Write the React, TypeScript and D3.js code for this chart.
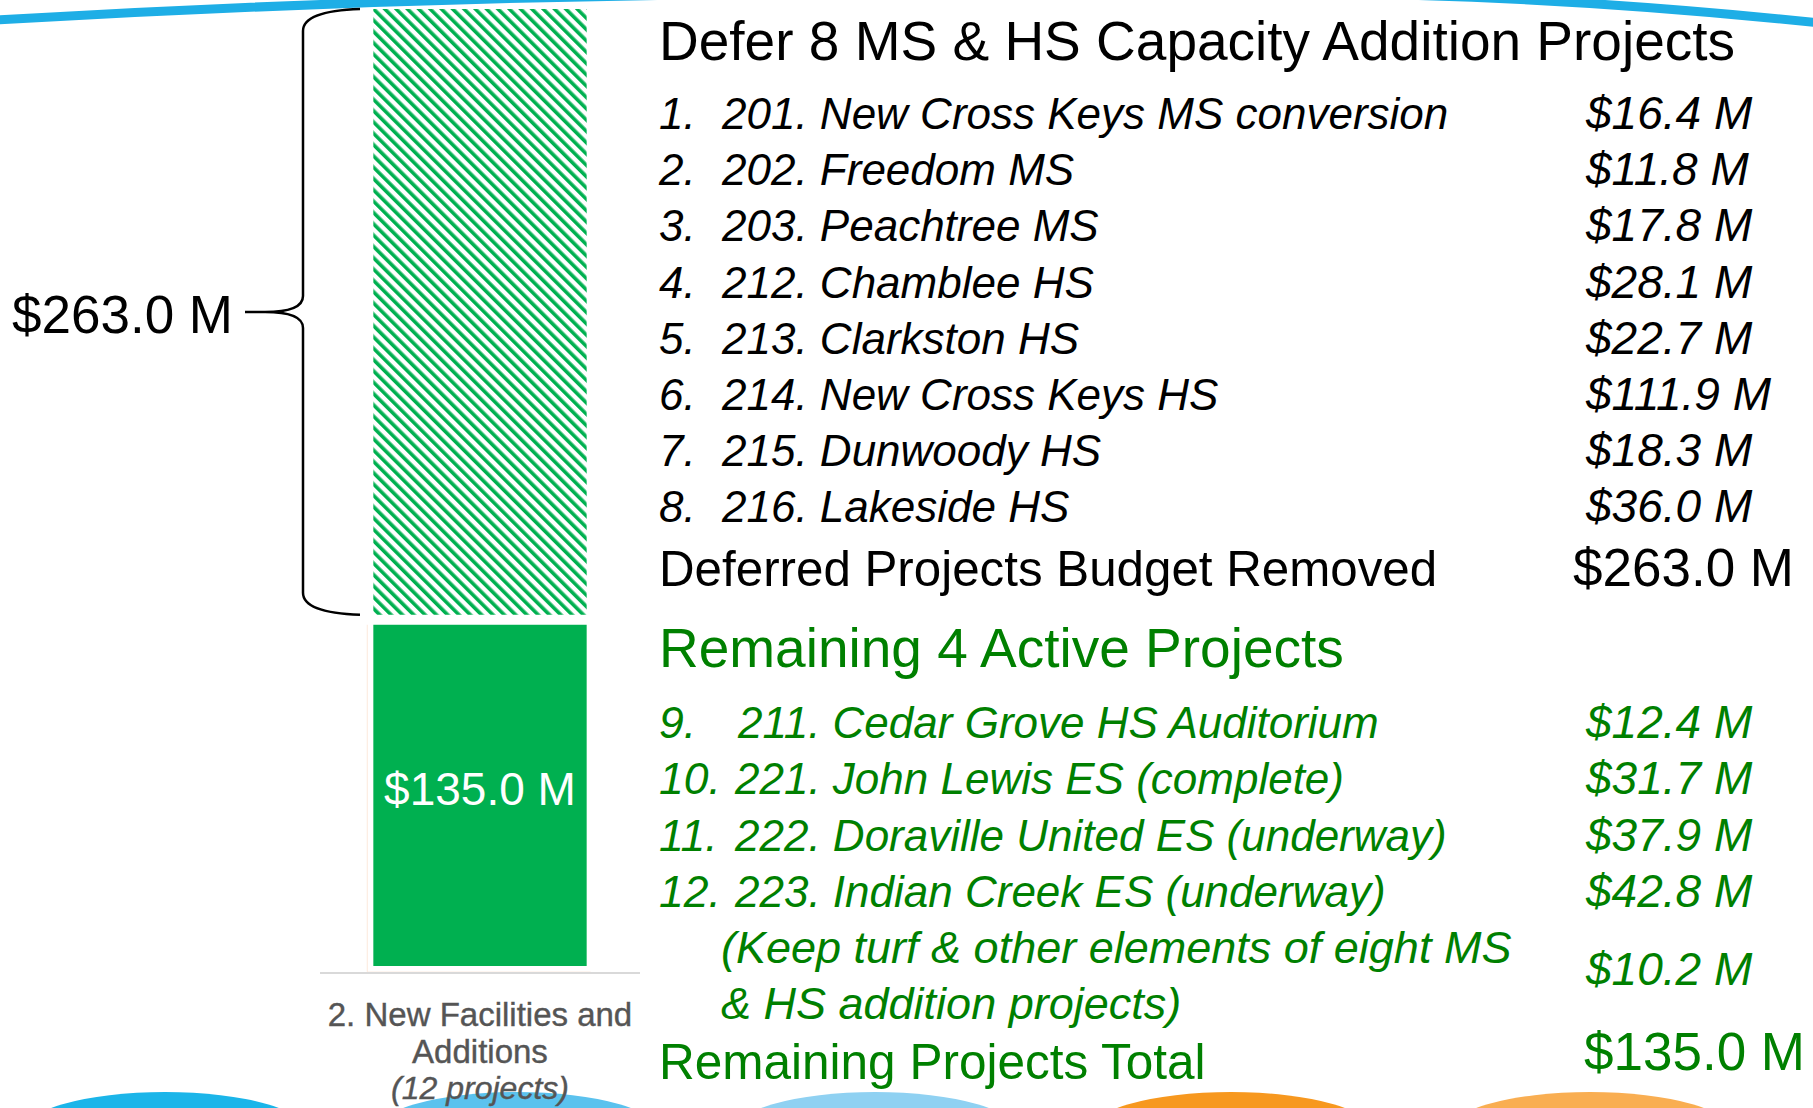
import * as d3 from 'd3';
import React, { useEffect, useRef } from 'react';

// deferred capacity projects (black list)
const deferredProjects = [
    '201. New Cross Keys MS conversion',
    '202. Freedom MS',
    '203. Peachtree MS',
    '212. Chamblee HS',
    '213. Clarkston HS',
    '214. New Cross Keys HS',
    '215. Dunwoody HS',
    '216. Lakeside HS',
];
const deferredValues = [16.4, 11.8, 17.8, 28.1, 22.7, 111.9, 18.3, 36.0];

// active projects (green list)
const activeProjects = [
    '211. Cedar Grove HS Auditorium',
    '221. John Lewis ES (complete)',
    '222. Doraville United ES (underway)',
    '223. Indian Creek ES (underway)',
];
const activeValues = [12.4, 31.7, 37.9, 42.8];
const keepNote = ['(Keep turf & other elements of eight MS', '& HS addition projects)'];
const keepValue = 10.2;

const barCategory = ['2. New Facilities and', 'Additions', '(12 projects)'];
const stackKeys = ['remaining', 'deferred'];
const axisMax = 371; // chart axis max, top segment is clipped

const FONT = "'Liberation Sans', Arial, Helvetica, sans-serif";
const GREEN_TEXT = '#008000';
const GREEN_BAR = '#00b050';

const fmt = (v: number) => `$${v.toFixed(1)} M`;

export default function App() {
    const ref = useRef<SVGSVGElement>(null);

    useEffect(() => {
        const svg = d3.select(ref.current);
        svg.selectAll('*').remove();

        const deferredTotal = d3.sum(deferredValues);
        const remainingTotal = d3.sum(activeValues) + keepValue;

        // decorative slide arcs
        const deco = svg.append('g');
        deco.append('path')
            .attr('d', 'M-5,20 Q340,0 690,-5')
            .attr('fill', 'none').attr('stroke', '#1eaee6').attr('stroke-width', 9);
        deco.append('path')
            .attr('d', 'M1400,-5 Q1600,0 1820,23')
            .attr('fill', 'none').attr('stroke', '#1eaee6').attr('stroke-width', 9);
        const domes = [
            [165, '#1bb5e9'], [517, '#5bc2ee'], [875, '#8fd1f2'], [1231, '#f7981f'], [1590, '#f9ae52'],
        ];
        deco.selectAll('ellipse').data(domes).enter().append('ellipse')
            .attr('cx', d => d[0]).attr('cy', 1134)
            .attr('rx', 145).attr('ry', 42)
            .attr('fill', d => d[1]);

        // hatch pattern
        const defs = svg.append('defs');
        const pat = defs.append('pattern')
            .attr('id', 'hatch')
            .attr('patternUnits', 'userSpaceOnUse')
            .attr('width', 8).attr('height', 8)
            .attr('patternTransform', 'rotate(-45)');
        pat.append('rect').attr('width', 8).attr('height', 8).attr('fill', '#fff');
        pat.append('rect').attr('width', 3.6).attr('height', 8).attr('fill', GREEN_BAR);

        // stacked bar
        const x = d3.scaleBand().domain([barCategory[0]]).range([320, 640]).paddingInner(0).paddingOuter(0.25);
        const y = d3.scaleLinear().domain([0, axisMax]).range([972, 4]).clamp(true);
        const stacked = d3.stack().keys(stackKeys)([{ remaining: remainingTotal, deferred: deferredTotal }]);
        const bx0 = x(barCategory[0])!;

        const bars = svg.append('g');
        // faint outline of an empty series at the base
        bars.append('path')
            .attr('d', `M${bx0 - 6},${y(stacked[0][0][1]) + 5} V${y(0)} H${bx0 + x.bandwidth() + 4}`)
            .attr('fill', 'none').attr('stroke', '#f8cbad').attr('stroke-opacity', 0.35).attr('stroke-width', 1.2);

        bars.selectAll('rect').data(stacked).enter().append('rect')
            .attr('x', bx0)
            .attr('width', x.bandwidth())
            .attr('y', d => y(d[0][1]) + 5)
            .attr('height', d => y(d[0][0]) - y(d[0][1]) - 11 + (d.key === 'deferred' ? 1 : 0))
            .attr('fill', d => d.key === 'deferred' ? 'url(#hatch)' : GREEN_BAR);

        bars.append('text')
            .attr('x', bx0 + x.bandwidth() / 2)
            .attr('y', (y(0) + y(remainingTotal)) / 2 + 9)
            .attr('text-anchor', 'middle')
            .attr('font-family', FONT).attr('font-size', 46).attr('fill', '#fff')
            .text(fmt(remainingTotal));

        // category axis
        svg.append('line')
            .attr('x1', 320).attr('x2', 640).attr('y1', 973).attr('y2', 973)
            .attr('stroke', '#d9d9d9').attr('stroke-width', 2);
        svg.append('g').selectAll('text').data(barCategory).enter().append('text')
            .attr('x', bx0 + x.bandwidth() / 2)
            .attr('y', (d, i) => [1026, 1063, 1099][i])
            .attr('text-anchor', 'middle')
            .attr('font-family', FONT).attr('font-size', (d, i) => i === 2 ? 32 : 33)
            .attr('fill', '#555555')
            .attr('stroke', '#555555').attr('stroke-width', 0.4)
            .attr('font-style', (d, i) => i === 2 ? 'italic' : 'normal')
            .text(d => d);

        // brace for deferred segment
        const top = y(stacked[1][0][1]) + 5;
        const bot = y(stacked[1][0][0]) - 5;
        const mid = (top + bot) / 2;
        const bx = 303;
        const p = d3.path();
        p.moveTo(360, top);
        p.quadraticCurveTo(bx, top + 2, bx, top + 22);
        p.lineTo(bx, mid - 16);
        p.quadraticCurveTo(bx, mid, 265, mid);
        p.lineTo(245, mid);
        p.moveTo(265, mid);
        p.quadraticCurveTo(bx, mid, bx, mid + 16);
        p.lineTo(bx, bot - 22);
        p.quadraticCurveTo(bx, bot - 2, 360, bot);
        svg.append('path').attr('d', p.toString())
            .attr('fill', 'none').attr('stroke', '#000').attr('stroke-width', 2.5);
        svg.append('text')
            .attr('x', 12).attr('y', mid + 21)
            .attr('font-family', FONT).attr('font-size', 53).attr('fill', '#000')
            .text(fmt(deferredTotal));

        // right-hand list
        const list = svg.append('g').attr('font-family', FONT);
        const numX = 659, valX = 1586;

        list.append('text').attr('x', numX).attr('y', 60)
            .attr('font-size', 55).attr('fill', '#000')
            .text('Defer 8 MS & HS Capacity Addition Projects');

        const rowY = d3.scaleLinear().domain([0, 1]).range([129, 185.2]);
        const dRows = list.append('g').selectAll('g').data(deferredProjects).enter().append('g')
            .attr('transform', (d, i) => `translate(0, ${rowY(i)})`)
            .attr('font-style', 'italic').attr('fill', '#000');
        dRows.append('text').attr('x', numX).attr('font-size', 44).text((d, i) => `${i + 1}.`);
        dRows.append('text').attr('x', 722).attr('font-size', 44).text(d => d);
        dRows.append('text').attr('x', valX).attr('font-size', 46).text((d, i) => fmt(deferredValues[i]));

        list.append('text').attr('x', numX).attr('y', 586)
            .attr('font-size', 49.3).attr('fill', '#000')
            .text('Deferred Projects Budget Removed');
        list.append('text').attr('x', 1573).attr('y', 586)
            .attr('font-size', 53).attr('fill', '#000')
            .text(fmt(deferredTotal));

        list.append('text').attr('x', numX).attr('y', 667)
            .attr('font-size', 55).attr('fill', GREEN_TEXT)
            .text(`Remaining ${activeProjects.length} Active Projects`);

        const aRowY = d3.scaleLinear().domain([0, 1]).range([738, 794.3]);
        const aRows = list.append('g').selectAll('g').data(activeProjects).enter().append('g')
            .attr('transform', (d, i) => `translate(0, ${aRowY(i)})`)
            .attr('font-style', 'italic').attr('fill', GREEN_TEXT);
        aRows.append('text').attr('x', numX).attr('font-size', 44.5)
            .text((d, i) => `${deferredProjects.length + i + 1}.`);
        aRows.append('text').attr('x', (d, i) => i === 0 ? 738 : 735).attr('font-size', 44).text(d => d);
        aRows.append('text').attr('x', valX).attr('font-size', 46).text((d, i) => fmt(activeValues[i]));

        list.append('g').selectAll('text').data(keepNote).enter().append('text')
            .attr('x', 721).attr('y', (d, i) => 963 + i * 56)
            .attr('font-size', 45).attr('font-style', 'italic').attr('fill', GREEN_TEXT)
            .text(d => d);
        list.append('text').attr('x', valX).attr('y', 985)
            .attr('font-size', 46).attr('font-style', 'italic').attr('fill', GREEN_TEXT)
            .text(fmt(keepValue));

        list.append('text').attr('x', numX).attr('y', 1079)
            .attr('font-size', 49.5).attr('fill', GREEN_TEXT)
            .text('Remaining Projects Total');
        list.append('text').attr('x', 1584).attr('y', 1070)
            .attr('font-size', 53).attr('fill', GREEN_TEXT)
            .text(fmt(remainingTotal));
    }, []);

    return (
        <svg ref={ref} width={1813} height={1108}
            style={{ position: 'absolute', left: 0, top: 0, background: '#fff' }} />
    );
}
